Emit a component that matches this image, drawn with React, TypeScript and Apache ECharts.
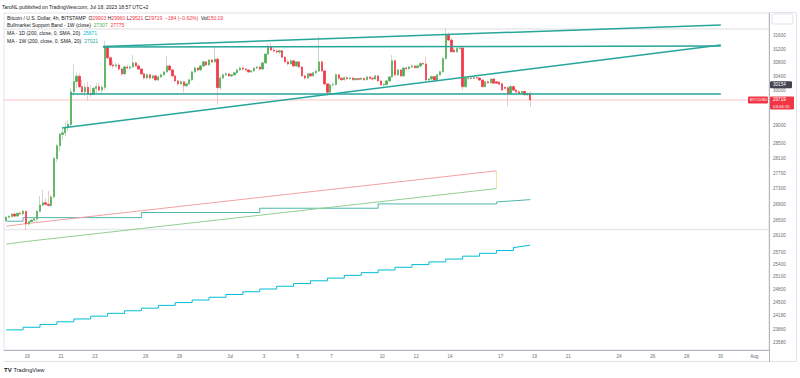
import React, { useEffect, useRef } from "react";
import * as echarts from "echarts";

const DAY_MS = 86400000;
const ORIGIN = "2023-06-19T00:00";
const FIRST_BAR = "2023-06-17T18:00";
const BAR_HOURS = 4;
const X_MIN = "2023-06-17T14:56";
const X_MAX = "2023-08-01T20:53";
const Y_MIN_PRICE = 23406;
const Y_MAX_PRICE = 32293;

// 4h candles: [open, high, low, close]
const candles: number[][] = [
  [26490, 26600, 26460, 26570], [26570, 26620, 26540, 26590], [26590, 26680, 26560, 26650], [26650, 26700, 26580, 26600],
  [26600, 26690, 26580, 26670], [26670, 26710, 26630, 26660], [26660, 26760, 26600, 26720], [26720, 26740, 26240, 26400],
  [26400, 26480, 26360, 26460], [26460, 26520, 26420, 26500], [26500, 26560, 26450, 26530], [26530, 26760, 26440, 26720],
  [26720, 27110, 26690, 26880], [26880, 27280, 26850, 26940], [26940, 27060, 26870, 26900], [26900, 27250, 26840, 26870],
  [26870, 27150, 26830, 27090], [27090, 28150, 27050, 28100], [28100, 28500, 28000, 28450], [28450, 28800, 28300, 28760],
  [28760, 28900, 28600, 28800], [28800, 29100, 28700, 28950], [28950, 29150, 28850, 29030], [29030, 30050, 28950, 29950],
  [29950, 30750, 29850, 30250], [30250, 30500, 30050, 30400], [30400, 30480, 30050, 30100], [30100, 30300, 29900, 29950],
  [29950, 30200, 29830, 30080], [30080, 30250, 29700, 29900], [29900, 30150, 29800, 29880], [29880, 30100, 29850, 30050],
  [30050, 30200, 29900, 30100], [30100, 30200, 29950, 30000], [30000, 30150, 29900, 30080], [30080, 31450, 30000, 31260],
  [31260, 31300, 30900, 30940], [30940, 31000, 30670, 30730], [30730, 30850, 30620, 30700], [30700, 30800, 30650, 30730],
  [30730, 30780, 30560, 30610], [30610, 30650, 30400, 30470], [30470, 30720, 30430, 30670], [30670, 30740, 30600, 30640],
  [30640, 30720, 30590, 30670], [30670, 31020, 30640, 30790], [30790, 30830, 30660, 30700], [30700, 30760, 30580, 30610],
  [30610, 30640, 30440, 30470], [30470, 30500, 30300, 30350], [30350, 30480, 30300, 30440], [30440, 30470, 30300, 30350],
  [30350, 30450, 30320, 30410], [30410, 30440, 30250, 30295], [30295, 30420, 30260, 30380], [30380, 30480, 30350, 30440],
  [30440, 30560, 30400, 30525], [30525, 31000, 30500, 30700], [30700, 30740, 30550, 30584], [30584, 30600, 30380, 30410],
  [30410, 30440, 30230, 30265], [30265, 30300, 30120, 30180], [30180, 30280, 30150, 30240], [30240, 30260, 29930, 30125],
  [30125, 30220, 30080, 30180], [30180, 30330, 30150, 30295], [30295, 30560, 30270, 30525], [30525, 30680, 30500, 30640],
  [30640, 30660, 30540, 30584], [30584, 30740, 30560, 30700], [30700, 30860, 30680, 30820], [30820, 30840, 30700, 30730],
  [30730, 30900, 30710, 30875], [30875, 30900, 30780, 30820], [30820, 31260, 30800, 30900], [30900, 30950, 29590, 30070],
  [30070, 30400, 30000, 30350], [30350, 30480, 30300, 30440], [30440, 30520, 30400, 30470], [30470, 30490, 30380, 30410],
  [30410, 30470, 30370, 30440], [30440, 30540, 30420, 30500], [30500, 30620, 30480, 30584], [30584, 30680, 30560, 30640],
  [30640, 30670, 30570, 30610], [30610, 30640, 30550, 30584], [30584, 30600, 30490, 30525], [30525, 30590, 30500, 30555],
  [30555, 30660, 30530, 30640], [30640, 30700, 30610, 30670], [30670, 30720, 30560, 30610], [30610, 30820, 30590, 30790],
  [30790, 31080, 30770, 31050], [31050, 31350, 31020, 31260], [31260, 31380, 31150, 31170], [31170, 31240, 31100, 31140],
  [31140, 31200, 31060, 31110], [31110, 31190, 31050, 31150], [31150, 31170, 30940, 30960], [30960, 30990, 30800, 30820],
  [30820, 30880, 30720, 30760], [30760, 30900, 30740, 30850], [30850, 30870, 30680, 30700], [30700, 30840, 30680, 30820],
  [30820, 30840, 30640, 30670], [30670, 30700, 30380, 30410], [30410, 30450, 30300, 30350], [30350, 30490, 30320, 30470],
  [30470, 30480, 30380, 30410], [30410, 30540, 30390, 30500], [30500, 30600, 30470, 30550], [30550, 31590, 30520, 30820],
  [30820, 30870, 30520, 30555], [30555, 30580, 30130, 30180], [30180, 30200, 29830, 29940], [29940, 30200, 29900, 30150],
  [30150, 30230, 30100, 30160], [30160, 30480, 30130, 30440], [30440, 30470, 30300, 30340], [30340, 30380, 30270, 30300],
  [30300, 30400, 30270, 30360], [30360, 30390, 30290, 30330], [30330, 30380, 30300, 30350], [30350, 30370, 30270, 30300],
  [30300, 30360, 30280, 30330], [30330, 30350, 30270, 30310], [30310, 30370, 30290, 30340], [30340, 30360, 30260, 30300],
  [30300, 30420, 30280, 30380], [30380, 30400, 30320, 30340], [30340, 30370, 30300, 30320], [30320, 30440, 30300, 30410],
  [30410, 30420, 30240, 30265], [30265, 30280, 30120, 30150], [30150, 30200, 30100, 30160], [30160, 30280, 30140, 30265],
  [30265, 30400, 30240, 30380], [30380, 31020, 30360, 30850], [30850, 30880, 30400, 30440], [30440, 30620, 30410, 30584],
  [30584, 30600, 30380, 30410], [30410, 30680, 30390, 30640], [30640, 30690, 30590, 30620], [30620, 30700, 30600, 30670],
  [30670, 30740, 30650, 30700], [30700, 30720, 30620, 30650], [30650, 30740, 30630, 30700], [30700, 30800, 30650, 30770],
  [30770, 30820, 30720, 30760], [30760, 30970, 30260, 30290], [30290, 30350, 30240, 30320], [30320, 30420, 30290, 30390],
  [30390, 30410, 30270, 30290], [30290, 30470, 30270, 30440], [30440, 30560, 30420, 30530], [30530, 30950, 30500, 30920],
  [30920, 31820, 30880, 31620], [31620, 31700, 31420, 31470], [31470, 31520, 31090, 31120], [31170, 31230, 31080, 31120],
  [31120, 31260, 31090, 31220], [31220, 31290, 31180, 31230], [31230, 31250, 30000, 30100], [30100, 30370, 30050, 30340],
  [30340, 30380, 30300, 30350], [30350, 30390, 30320, 30340], [30340, 30380, 30310, 30360], [30360, 30400, 30320, 30350],
  [30350, 30370, 30270, 30290], [30290, 30310, 30080, 30100], [30100, 30260, 30080, 30240], [30240, 30270, 30180, 30210],
  [30210, 30350, 30190, 30320], [30320, 30340, 30190, 30200], [30240, 30260, 30180, 30200], [30230, 30250, 30150, 30170],
  [30180, 30220, 29980, 30000], [30080, 30100, 30020, 30050], [30070, 30100, 29540, 29900], [29900, 30150, 29880, 30100],
  [30100, 30130, 29980, 30000], [30000, 30040, 29920, 29950], [29950, 30000, 29870, 29900], [29900, 29990, 29860, 29960],
  [29960, 29990, 29840, 29870], [29870, 29940, 29820, 29903], [29903, 29960, 29521, 29719],
];

const bullSma: [string, number][] = [
  ["2023-06-17T18:00", 26341], ["2023-06-18T18:00", 26399], ["2023-06-25T18:00", 26736],
  ["2023-07-02T18:00", 27078], ["2023-07-09T18:00", 27422], ["2023-07-16T18:00", 27775],
];
const bullEma: [string, number][] = [
  ["2023-06-17T18:00", 25895], ["2023-06-18T18:00", 25953], ["2023-06-25T18:00", 26285],
  ["2023-07-02T18:00", 26621], ["2023-07-09T18:00", 26962], ["2023-07-16T18:00", 27307],
];
const maWeekly: [string, number][] = [
  ["2023-06-17T18:00", 26470], ["2023-06-18T18:00", 26560], ["2023-06-25T18:00", 26690],
  ["2023-07-02T18:00", 26800], ["2023-07-09T18:00", 26910], ["2023-07-16T18:00", 26960],
];
const maWeeklyLive: [string, number][] = [["2023-07-16T18:00", 26960], ["2023-07-18T18:00", 27021]];
const maDaily: [string, number][] = [
  ["2023-06-17T18:00", 23860], ["2023-06-18T18:00", 23920], ["2023-06-19T18:00", 23985], ["2023-06-20T18:00", 24045],
  ["2023-06-21T18:00", 24110], ["2023-06-22T18:00", 24175], ["2023-06-23T18:00", 24240], ["2023-06-24T18:00", 24300],
  ["2023-06-25T18:00", 24360], ["2023-06-26T18:00", 24425], ["2023-06-27T18:00", 24490], ["2023-06-28T18:00", 24550],
  ["2023-06-29T18:00", 24615], ["2023-06-30T18:00", 24680], ["2023-07-01T18:00", 24745], ["2023-07-02T18:00", 24810],
  ["2023-07-03T18:00", 24875], ["2023-07-04T18:00", 24940], ["2023-07-05T18:00", 25005], ["2023-07-06T18:00", 25070],
  ["2023-07-07T18:00", 25135], ["2023-07-08T18:00", 25200], ["2023-07-09T18:00", 25265], ["2023-07-10T18:00", 25330],
  ["2023-07-11T18:00", 25395], ["2023-07-12T18:00", 25460], ["2023-07-13T18:00", 25530], ["2023-07-14T18:00", 25600],
  ["2023-07-15T18:00", 25670], ["2023-07-16T18:00", 25740], ["2023-07-17T18:00", 25810],
];
const maDailyLive: [string, number][] = [["2023-07-17T18:00", 25810], ["2023-07-18T18:00", 25871]];

// drawn trend lines: [time, price]
const trendUpper: [string, number][] = [["2023-06-23T11:27", 31276], ["2023-07-30T00:30", 31925]];
const trendResistance: [string, number][] = [["2023-06-23T11:27", 31260], ["2023-07-30T00:30", 31290]];
const trendRising: [string, number][] = [["2023-06-21T01:15", 28934], ["2023-07-30T00:30", 31321]];
const trendSupport: [string, number][] = [["2023-06-21T12:37", 29889], ["2023-07-30T00:30", 29889]];

const separatorLevels = [31803, 26260];
const lastClose = 29719;
const markedLevel = 30154;

const yTicks = [31600, 31200, 30800, 30400, 30000, 29000, 28500, 28100, 27700, 27300, 26900, 26500, 26100, 25700, 25400, 25100, 24800, 24500, 24180, 23860, 23580];
const xTicks: [string, string][] = [
  ["2023-06-19", "19"], ["2023-06-21", "21"], ["2023-06-23", "23"], ["2023-06-26", "26"], ["2023-06-28", "28"],
  ["2023-07-01", "Jul"], ["2023-07-03", "3"], ["2023-07-05", "5"], ["2023-07-07", "7"], ["2023-07-10", "10"],
  ["2023-07-12", "12"], ["2023-07-14", "14"], ["2023-07-17", "17"], ["2023-07-19", "19"], ["2023-07-21", "21"],
  ["2023-07-24", "24"], ["2023-07-26", "26"], ["2023-07-28", "28"], ["2023-07-30", "30"], ["2023-08-01", "Aug"],
];

const FONT = "Liberation Sans, Arial, sans-serif";
const UP = "#4caf50";
const DOWN = "#f23645";
const UP_WICK = "#c5ddc9";
const DOWN_WICK = "#f5c4c8";
const TEAL = "#26a69a";

const toDay = (s: string) => (Date.parse(s + ":00Z") - Date.parse(ORIGIN + ":00Z")) / DAY_MS;
const L = Math.log;
const pts = (arr: [string, number][]) => arr.map(([t, p]) => [toDay(t), L(p)]);

function buildOption(): any {
  const firstDay = toDay(FIRST_BAR);
  const xs = candles.map((_, i) => firstDay + (i * BAR_HOURS) / 24);
  const wickData = candles.map(([o, h, l, c], i) => [xs[i], L(o), L(c), L(l), L(h)]);
  const bodyData = candles.map(([o, , , c], i) => [xs[i], L(o), L(c), L(Math.min(o, c)), L(Math.max(o, c))]);
  const tickDays = xTicks.map(([d]) => toDay(d + "T00:00"));
  const x0 = toDay(X_MIN);
  const x1 = toDay(X_MAX);
  const line = (name: string, data: any[], color: string, width: number, extra: any = {}) => ({
    name, type: "line", data: data, symbol: "none", silent: true, lineStyle: { color, width }, z: 3, ...extra,
  });
  const level = (name: string, v: number, color: string, width: number, z: number) =>
    line(name, [[x0, L(v)], [x1, L(v)]], color, width, { z });
  return {
    animation: false,
    grid: { left: 4, right: 31, top: 13, bottom: 28, show: true, borderColor: "#e0e3eb", borderWidth: 1 },
    xAxis: {
      type: "value", min: x0, max: x1,
      axisLine: { show: true, onZero: false, lineStyle: { color: "#b2b5be", width: 1 } },
      axisTick: { show: false }, splitLine: { show: false },
      axisLabel: {
        customValues: tickDays, margin: 4, color: "#6a6d78", fontSize: 4.6, fontFamily: FONT,
        formatter: (v: number) => { const k = tickDays.findIndex((d) => Math.abs(d - v) < 0.01); return k >= 0 ? xTicks[k][1] : ""; },
      },
    },
    yAxis: {
      type: "value", position: "right", min: L(Y_MIN_PRICE), max: L(Y_MAX_PRICE), scale: true,
      axisLine: { show: true, onZero: false, lineStyle: { color: "#b2b5be", width: 1 } },
      axisTick: { show: false }, splitLine: { show: false },
      axisLabel: {
        customValues: yTicks.map(L), margin: 4, color: "#6a6d78", fontSize: 4.6, fontFamily: FONT,
        formatter: (v: number) => String(Math.round(Math.exp(v))),
      },
    },
    series: [
      ...separatorLevels.map((v, i) => level("separator " + i, v, "#e8e9ec", 1.5, 1)),
      level("last price", lastClose, "#f9c3c7", 1, 2),
      line("MA 1D", pts(maDaily), "#00bcd4", 1, { step: "end" }),
      line("MA 1D live", pts(maDailyLive), "#00bcd4", 1),
      line("MA 1W", pts(maWeekly), "#4db6ac", 1, { step: "end" }),
      line("MA 1W live", pts(maWeeklyLive), "#4db6ac", 1),
      line("Bull SMA", pts(bullSma), "#f4a0a0", 1),
      line("Bull EMA", pts(bullEma), "#92cf94", 1),
      line("Bull edge", [[toDay(bullSma[bullSma.length - 1][0]), L(bullSma[bullSma.length - 1][1])], [toDay(bullEma[bullEma.length - 1][0]), L(bullEma[bullEma.length - 1][1])]], "#f3e3a1", 1),
      {
        name: "wicks", type: "candlestick", data: wickData, barWidth: 1.8, silent: true, z: 4,
        encode: { x: 0, y: [1, 2, 3, 4] },
        itemStyle: { color: UP_WICK, color0: DOWN_WICK, borderColor: UP_WICK, borderColor0: DOWN_WICK, borderWidth: 1 },
      },
      {
        name: "bodies", type: "candlestick", data: bodyData, barWidth: 1.8, silent: true, z: 5,
        encode: { x: 0, y: [1, 2, 3, 4] },
        itemStyle: { color: UP, color0: DOWN, borderColor: UP, borderColor0: DOWN, borderWidth: 0.6 },
      },
      line("trend upper", pts(trendUpper), TEAL, 1.5, { z: 6 }),
      line("trend resistance", pts(trendResistance), TEAL, 1.5, { z: 6 }),
      line("trend rising", pts(trendRising), TEAL, 1.5, { z: 6 }),
      line("trend support", pts(trendSupport), TEAL, 1.5, { z: 6 }),
    ],
  };
}

function txt(x: number, y: number, text: string, size: number, fill: string, extra: any = {}, z = 100) {
  return { type: "text", z, silent: true, style: { x, y, text, fill, fontSize: size, fontFamily: FONT, verticalAlign: "middle", align: "left", ...extra } };
}
function rich(x: number, y: number, text: string, styles: Record<string, string>, size = 5) {
  const r: any = {};
  Object.keys(styles).forEach((k) => { r[k] = { fill: styles[k], fontSize: size, fontFamily: FONT }; });
  return { type: "text", z: 100, silent: true, style: { x, y, text, rich: r, verticalAlign: "middle", align: "left", fontSize: size, fontFamily: FONT } };
}
function hline(x1: number, x2: number, y: number, color: string) {
  return { type: "line", z: 90, silent: true, shape: { x1, y1: y, x2, y2: y }, style: { stroke: color, lineWidth: 1 } };
}
function vline(x: number, y1: number, y2: number, color: string) {
  return { type: "line", z: 90, silent: true, shape: { x1: x, y1, x2: x, y2 }, style: { stroke: color, lineWidth: 1 } };
}

function buildGraphics(py: (p: number) => number): any[] {
  const [o, h, l, c] = candles[candles.length - 1];
  const yLast = py(lastClose);
  const yMark = py(markedLevel);
  const D = "#131722";
  return [
    txt(2, 7, "TaroNL published on TradingView.com, Jul 18, 2023 18:57 UTC+2", 5, D),
    rich(7, 18, `{d|Bitcoin / U.S. Dollar, 4h, BITSTAMP  O}{r|${o}}{d| H}{r|${h}}{d| L}{r|${l}}{d| C}{r|${c}}{r|  −184 (−0.62%)}{d|  Vol}{r|150.19}`, { d: D, r: DOWN }),
    rich(7, 25, `{d|Bullmarket Support Band - 1W (close)  }{g|${bullEma[bullEma.length - 1][1]}}{d|  }{r|${bullSma[bullSma.length - 1][1]}}`, { d: D, g: UP, r: DOWN }),
    rich(7, 33, `{d|MA - 1D (200, close, 0, SMA, 20)  }{c|${maDailyLive[1][1]}}`, { d: D, c: "#00bcd4" }),
    rich(7, 41, `{d|MA - 1W (200, close, 0, SMA, 20)  }{c|${maWeeklyLive[1][1]}}`, { d: D, c: TEAL }),
    // frame
    hline(3.5, 796.5, 361.5, "#e0e3eb"),
    hline(769, 796.5, 12.5, "#e0e3eb"),
    vline(796.5, 12.5, 361.5, "#e0e3eb"),
    vline(769.5, 350, 362, "#b2b5be"),
    { type: "rect", z: 95, silent: true, shape: { x: 772, y: 14, width: 21, height: 10, r: 1 }, style: { fill: "#fff", stroke: "#e0e3eb", lineWidth: 1 } },
    // marked level tag
    { type: "rect", z: 101, silent: true, shape: { x: 770, y: yMark - 3.5, width: 22, height: 7, r: 1 }, style: { fill: "#434651" } },
    txt(773, yMark, String(markedLevel), 4.6, "#fff", {}, 102),
    // last price tags
    { type: "rect", z: 101, silent: true, shape: { x: 770, y: yLast - 3.5, width: 24, height: 13, r: 1 }, style: { fill: DOWN } },
    txt(773, yLast, String(lastClose), 4.6, "#fff", {}, 102),
    txt(773, yLast + 6.5, "03:03:15", 4.3, "#fff", {}, 102),
    { type: "rect", z: 101, silent: true, shape: { x: 748, y: yLast - 3.5, width: 20, height: 7, r: 1 }, style: { fill: DOWN } },
    txt(750, yLast, "BTCUSD", 4.3, "#fff", {}, 102),
    // logo
    txt(4, 370, "TV", 6, D, { fontWeight: 900 }),
    txt(13.5, 370, "TradingView", 5.6, D),
  ];
}

export default function App() {
  const ref = useRef<HTMLDivElement>(null);
  useEffect(() => {
    const chart = echarts.init(ref.current as HTMLDivElement, undefined, { renderer: "svg" });
    chart.setOption(buildOption());
    const py = (p: number) => chart.convertToPixel({ yAxisIndex: 0 }, L(p)) as unknown as number;
    chart.setOption({ graphic: buildGraphics(py) });
    return () => chart.dispose();
  }, []);
  return <div ref={ref} style={{ position: "fixed", left: 0, top: 0, width: 800, height: 378, background: "#fff" }} />;
}
